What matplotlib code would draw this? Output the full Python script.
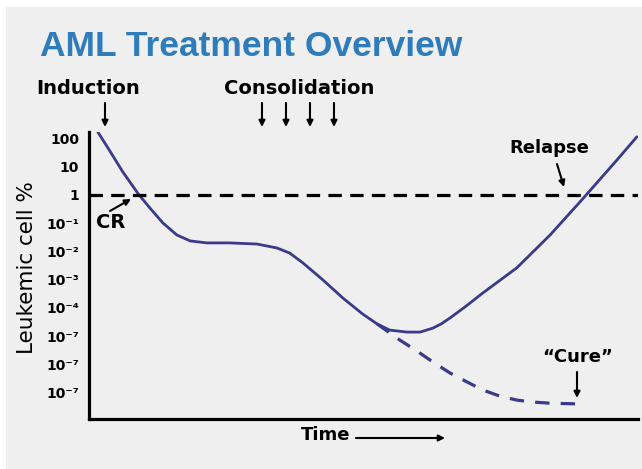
import matplotlib
matplotlib.use("Agg")
import matplotlib.pyplot as plt
from matplotlib.patches import Rectangle, FancyArrowPatch
import numpy as np

# curve: time (0-100) and log10 of leukemic cell %
time_main = [1.6, 3.8, 6.1, 8.9, 11.0, 13.4, 15.9, 18.3, 21.3, 25.5, 30.4, 34.0,
             36.3, 38.7, 42.3, 45.9, 49.5, 52.1, 54.4, 57.5, 59.9, 62.2, 63.7,
             65.3, 68.2, 71.2, 77.4, 83.4, 89.3, 95.5, 99.1]
log_main = [2.23, 1.55, 0.82, 0.04, -0.46, -1.00, -1.42, -1.63, -1.70, -1.70,
            -1.74, -1.88, -2.06, -2.41, -3.01, -3.65, -4.22, -4.57, -4.79, -4.86,
            -4.86, -4.72, -4.57, -4.36, -3.94, -3.48, -2.58, -1.42, -0.14, 1.24, 2.06]

# "cure" branch (dashed)
time_cure = [52.1, 56.2, 59.3, 62.2, 65.3, 68.4, 71.2, 74.3, 77.4, 80.3, 83.4, 89.3]
log_cure = [-4.57, -5.14, -5.53, -5.92, -6.31, -6.63, -6.91, -7.13, -7.27, -7.34,
            -7.38, -7.41]

tick_exp = [2, 1, 0, -1, -2, -3, -4, -5, -6, -7]
tick_labels = ["100", "10", "1", "10⁻¹", "10⁻²", "10⁻³", "10⁻⁴", "10⁻⁷", "10⁻⁷", "10⁻⁷"]
cr_level = 1.0

W, H = 642, 469
navy = "#3a3a8c"


def px(x, y):
    # pixel position on the slide -> figure fraction
    return x / W, 1 - y / H


fig = plt.figure(figsize=(6.42, 4.69), dpi=100, facecolor="white")
fig.patches.append(Rectangle((6 / W, 0), 1, 1 - 7 / H, transform=fig.transFigure,
                             facecolor="#efefef", edgecolor="none", zorder=-5))

ax = fig.add_axes([89 / W, 1 - 419 / H, (638 - 89) / W, (419 - 132) / H])
ax.patch.set_alpha(0)
ax.set_yscale("log")
ax.plot(time_main, 10 ** np.array(log_main), color=navy, lw=2.0,
        solid_capstyle="round", solid_joinstyle="round")
ax.plot(time_cure, 10 ** np.array(log_cure), color=navy, lw=2.3, dashes=(4.5, 3.5))
ax.axhline(cr_level, color="black", lw=2.3, dashes=(4.2, 2.6))

ax.set_xlim(0, 99.3)
ax.set_ylim(10 ** -7.94, 10 ** 2.23)
ax.set_xticks([])
ax.set_yticks([10.0 ** e for e in tick_exp])
ax.set_yticklabels(tick_labels, fontsize=10, fontweight="bold")
ax.minorticks_off()
ax.tick_params(axis="y", length=0, pad=7)
for s in ["top", "right"]:
    ax.spines[s].set_visible(False)
for s in ["left", "bottom"]:
    ax.spines[s].set_linewidth(2.3)

# title and labels
fig.text(*px(40, 46), "AML Treatment Overview", fontsize=25.5, fontweight="bold",
         color="#2f7cbd", family=["Liberation Sans", "DejaVu Sans"], va="center")
fig.text(*px(27, 268), "Leukemic cell %", rotation=90, fontsize=15.5,
         ha="center", va="center")
fig.text(*px(36, 89), "Induction", fontsize=14, fontweight="bold", va="center")
fig.text(*px(224, 89), "Consolidation", fontsize=14, fontweight="bold", va="center")
fig.text(*px(96, 222), "CR", fontsize=14, fontweight="bold", va="center")
fig.text(*px(549, 148), "Relapse", fontsize=13, fontweight="bold", va="center", ha="center")
fig.text(*px(578, 357), "“Cure”", fontsize=13, fontweight="bold", va="center", ha="center")
fig.text(*px(301, 435), "Time", fontsize=13, fontweight="bold", va="center")

arrow = dict(arrowstyle="-|>", lw=1.5, color="black", mutation_scale=9, shrinkA=0, shrinkB=0)
arrows = [((105, 103), (105, 127)),
          ((262, 103), (262, 127)), ((286, 103), (286, 127)),
          ((310, 103), (310, 127)), ((334, 103), (334, 127)),
          ((110, 211), (131, 199)),
          ((557, 164), (564, 187)),
          ((577, 372), (577, 398)),
          ((356, 438), (445, 438))]
for (x0, y0), (x1, y1) in arrows:
    fig.patches.append(FancyArrowPatch(px(x0, y0), px(x1, y1),
                                       transform=fig.transFigure, **arrow))

fig.savefig("out.png", dpi=100, facecolor=fig.get_facecolor())
